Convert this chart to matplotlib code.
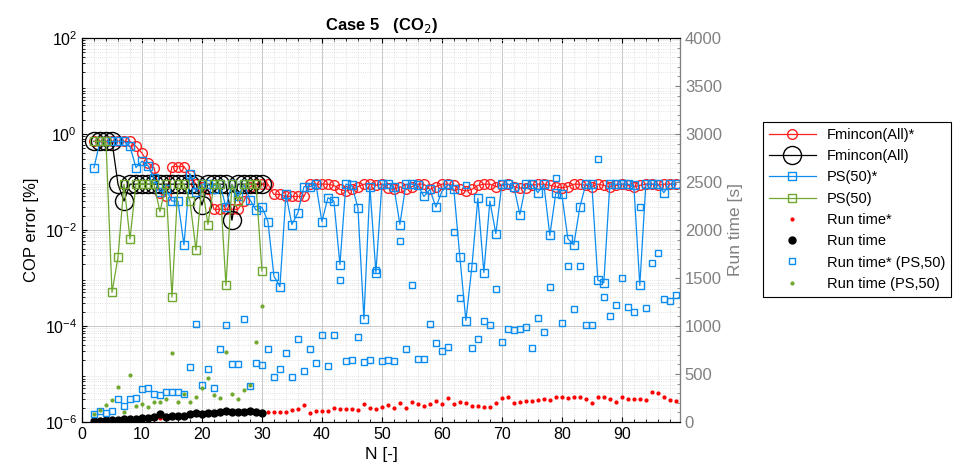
import numpy as np
import matplotlib.pyplot as plt
from matplotlib.ticker import MultipleLocator, LogLocator, NullFormatter

plt.rcParams['font.family'] = ['Liberation Sans', 'DejaVu Sans']

# N values
n_all = np.arange(2, 100)
n_30 = np.arange(2, 31)

# COP error [%]
fmincon_star = [0.7, 0.7, 0.7, 0.7, 0.7, 0.7, 0.7, 0.55, 0.4, 0.25, 0.2, 0.06, 0.05,
                0.21, 0.21, 0.21, 0.14, 0.09, 0.08, 0.07, 0.027, 0.027, 0.027, 0.027, 0.027,
                0.04, 0.08, 0.09, 0.09, 0.09, 0.055, 0.055, 0.05, 0.05, 0.05, 0.05, 0.09,
                0.09, 0.09, 0.09, 0.085, 0.07, 0.065, 0.07, 0.08, 0.09, 0.09, 0.085, 0.09,
                0.075, 0.07, 0.08, 0.07, 0.08, 0.09, 0.09, 0.07, 0.08, 0.09, 0.09, 0.085,
                0.07, 0.065, 0.07, 0.085, 0.09, 0.09, 0.08, 0.085, 0.09, 0.08, 0.075, 0.075,
                0.085, 0.09, 0.09, 0.085, 0.08, 0.075, 0.08, 0.09, 0.09, 0.085, 0.08, 0.09,
                0.085, 0.08, 0.085, 0.09, 0.085, 0.08, 0.085, 0.09, 0.09, 0.085, 0.09, 0.09, 0.09]
fmincon = [0.7, 0.7, 0.7, 0.7, 0.09, 0.04, 0.09, 0.09, 0.09, 0.09, 0.09, 0.09, 0.09,
           0.09, 0.09, 0.09, 0.09, 0.09, 0.033, 0.09, 0.09, 0.09, 0.09, 0.016, 0.09,
           0.09, 0.09, 0.09, 0.09]
ps50_star = [0.2, 0.7, 0.7, 0.7, 0.7, 0.7, 0.55, 0.2, 0.27, 0.22, 0.12, 0.063, 0.07,
             0.04, 0.04, 0.0049, 0.15, 0.063, 0.09, 0.09, 0.07, 0.09, 0.03, 0.09, 0.05,
             0.09, 0.043, 0.026, 0.03, 0.015, 0.0011, 0.00066, 0.055, 0.013, 0.023, 0.08,
             0.08, 0.09, 0.015, 0.047, 0.04, 0.0019, 0.09, 0.085, 0.029, 0.00014, 0.08,
             0.0013, 0.09, 0.09, 0.08, 0.013, 0.09, 0.09, 0.085, 0.05, 0.07, 0.03, 0.063,
             0.09, 0.07, 0.0027, 0.00013, 0.0017, 0.046, 0.0013, 0.04, 0.0084, 0.09, 0.09,
             0.08, 0.021, 0.09, 0.09, 0.06, 0.09, 0.0077, 0.06, 0.055, 0.0066, 0.0049, 0.03,
             0.09, 0.09, 0.0009, 0.0008, 0.09, 0.09, 0.09, 0.09, 0.085, 0.0007, 0.09, 0.09,
             0.09, 0.06, 0.09, 0.09]
ps50 = [0.7, 0.7, 0.7, 0.0005, 0.0027, 0.09, 0.0065, 0.09, 0.09, 0.09, 0.09, 0.024,
        0.09, 0.0004, 0.09, 0.09, 0.04, 0.0038, 0.09, 0.013, 0.09, 0.09, 0.0007, 0.09,
        0.04, 0.09, 0.09, 0.09, 0.0014]

# Run time [s]
rt_star = [8, 12, 15, 18, 20, 25, 28, 30, 35, 38, 42, 40, 50, 55, 55, 60, 70, 85, 80,
           85, 90, 95, 105, 100, 95, 100, 105, 100, 85,
           108, 100, 100, 108, 125, 140, 177, 97, 115, 118, 118, 150, 140, 140, 132, 128,
           184, 150, 140, 160, 177, 150, 194, 150, 205, 184, 170, 184, 220, 184, 247, 187,
           205, 200, 170, 170, 160, 160, 201, 247, 257, 201, 208, 222, 222, 226, 240, 226,
           257, 257, 247, 257, 257, 236, 201, 257, 264, 236, 205, 264, 236, 236, 236, 226,
           312, 298, 257, 229, 219]
rt = [10, 15, 20, 20, 25, 30, 30, 35, 40, 45, 50, 80, 55, 60, 60, 65, 80, 95, 85, 90,
      95, 100, 115, 108, 100, 105, 110, 108, 90]
rt_ps_star = [83, 118, 90, 118, 240, 170, 243, 253, 340, 350, 295, 278, 310, 310, 310,
              295, 576, 1017, 385, 548, 350, 757, 1010, 600, 600, 1073, 378, 611, 590,
              760, 472, 548, 722, 472, 861, 535, 757, 611, 906, 583, 906, 1479, 640, 650,
              885, 630, 650, 1580, 640, 650, 640, 1889, 757, 1427, 655, 660, 1020, 820,
              743, 785, 1982, 1288, 2470, 770, 865, 1055, 1010, 1390, 830, 965, 960, 965,
              993, 768, 1080, 938, 1410, 2540, 1035, 1625, 1180, 1620, 1010, 1010, 2736,
              1300, 1105, 1220, 1497, 1200, 1150, 2243, 1190, 1653, 1764, 1285, 1265, 1325]
rt_ps = [80, 120, 177, 229, 368, 108, 490, 170, 187, 160, 212, 212, 240, 715, 212, 295,
         212, 260, 350, 455, 278, 253, 733, 288, 243, 330, 385, 830, 1212]

red = '#FF2020'
blue = '#0A8CF0'
green = '#70A830'
gray = '#808080'

fig = plt.figure(figsize=(9.6, 4.75), dpi=100)
ax = fig.add_axes([82 / 960, 1 - 422 / 475, 598 / 960, 384 / 475])
ax2 = ax.twinx()

l1, = ax.plot(n_all, fmincon_star, '-o', color=red, mfc='none', ms=7, lw=0.9, mew=1.0,
              label='Fmincon(All)*')
l2, = ax.plot(n_30, fmincon, '-o', color='black', mfc='none', ms=13, lw=0.9, mew=1.0,
              label='Fmincon(All)')
l3, = ax.plot(n_all, ps50_star, '-s', color=blue, mfc='none', ms=6, lw=0.9, mew=1.0,
              label='PS(50)*')
l4, = ax.plot(n_30, ps50, '-s', color=green, mfc='none', ms=6, lw=0.9, mew=1.0,
              label='PS(50)')

l5, = ax2.plot(n_all, rt_star, '.', color='red', ms=4, label='Run time*')
l6, = ax2.plot(n_30, rt, 'o', color='black', ms=5, label='Run time')
l7, = ax2.plot(n_all, rt_ps_star, 's', color=blue, mfc='none', ms=4.5, mew=1.0,
               label='Run time* (PS,50)')
l8, = ax2.plot(n_30, rt_ps, '.', color=green, ms=4, label='Run time (PS,50)')

ax.set_yscale('log')
ax.set_ylim(1e-6, 1e2)
ax.set_xlim(0, 99.7)
ax.set_yticks([1e-6, 1e-4, 1e-2, 1e0, 1e2])
ax.yaxis.set_minor_locator(LogLocator(base=10, subs=np.arange(2, 10), numticks=20))
ax.yaxis.set_minor_formatter(NullFormatter())
ax.xaxis.set_major_locator(MultipleLocator(10))
ax.xaxis.set_minor_locator(MultipleLocator(2))
ax.grid(True, which='major', color='#C8C8C8', lw=0.7)
ax.grid(True, which='minor', color='#D8D8D8', lw=0.6, ls=':')
ax.set_axisbelow(True)
ax.tick_params(which='both', direction='in', top=True, labelsize=11.5)
ax.tick_params(axis='y', which='minor', length=2)

ax2.set_ylim(0, 4000)
ax2.yaxis.set_major_locator(MultipleLocator(500))
ax2.yaxis.set_minor_locator(MultipleLocator(100))
ax2.tick_params(axis='y', which='both', direction='in', colors=gray, labelsize=12)
ax2.spines['right'].set_color(gray)
ax2.set_ylabel('Run time [s]', color=gray, fontsize=12.5)

ax.set_xlabel('N [-]', fontsize=12.5)
ax.set_ylabel('COP error [%]', fontsize=12)
ax.set_title('Case 5   (CO$_2$)', fontsize=12, fontweight='bold')

leg = fig.legend(handles=[l1, l2, l3, l4, l5, l6, l7, l8], loc='upper left',
                 bbox_to_anchor=(763 / 960, 1 - 122 / 475), fontsize=10.5,
                 fancybox=False, edgecolor='black', framealpha=1, handlelength=3.2,
                 borderaxespad=0)
leg.get_frame().set_linewidth(0.8)

fig.savefig('out.png', dpi=100)
